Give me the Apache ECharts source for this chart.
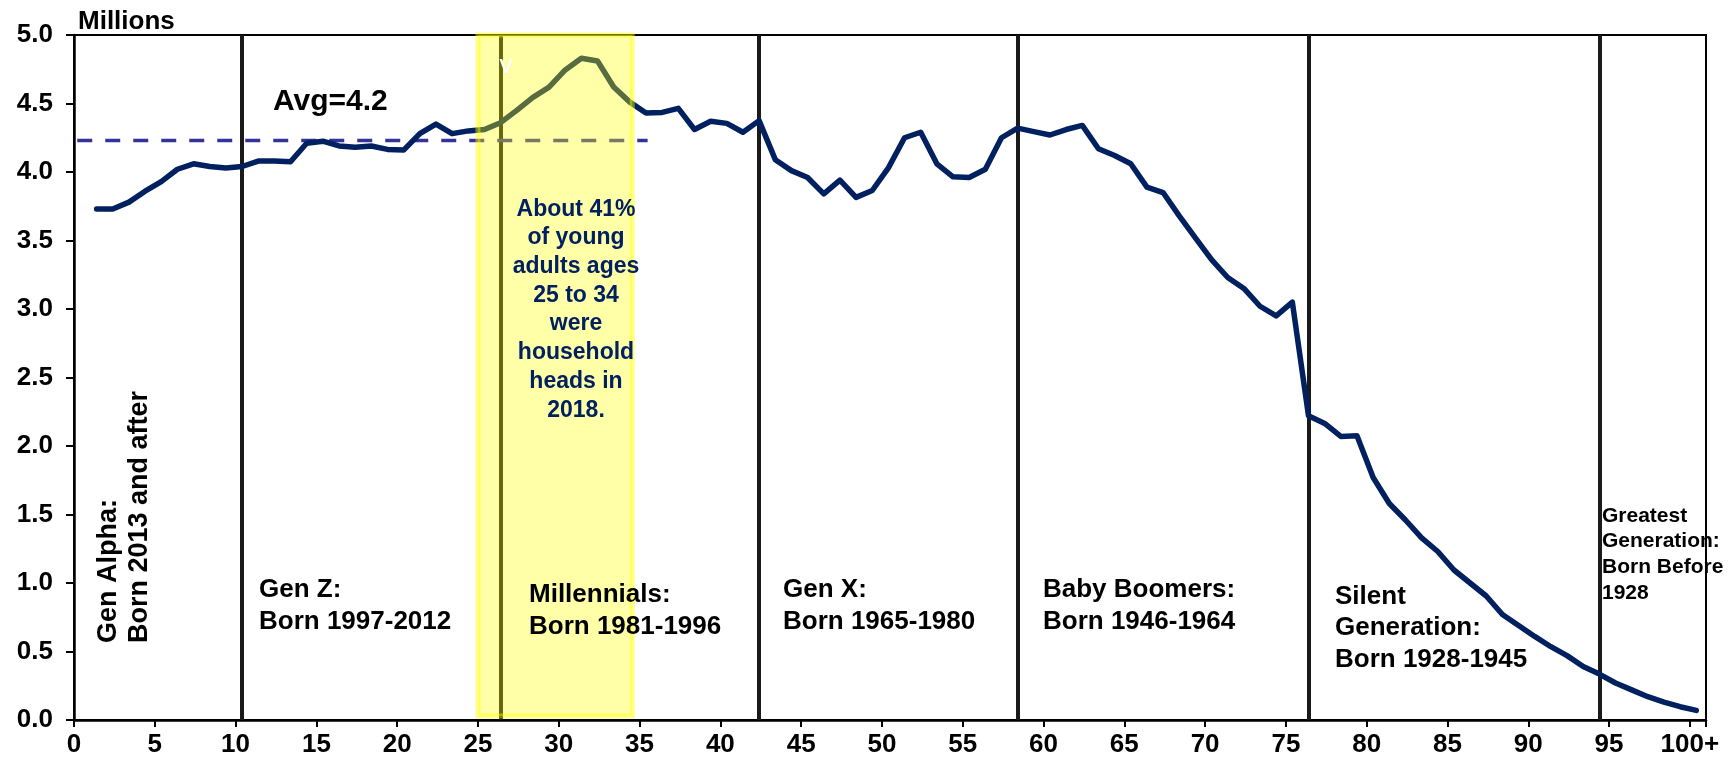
<!DOCTYPE html>
<html>
<head>
<meta charset="utf-8">
<script src="https://cdn.jsdelivr.net/npm/echarts@6/dist/echarts.min.js"></script>
<style>
  html, body { margin: 0; padding: 0; background: #fff; }
  #chart { width: 1731px; height: 765px; }
</style>
</head>
<body>
<div id="chart"></div>
<script>
// households headed by age (millions), ages 1..100+
const ages = Array.from({ length: 100 }, (_, i) => i + 1);
const households = [
  3.73, 3.73, 3.78, 3.86, 3.93, 4.02, 4.06, 4.04, 4.03, 4.04,
  4.08, 4.08, 4.075, 4.21, 4.225, 4.19, 4.18, 4.19, 4.165, 4.16,
  4.28, 4.35, 4.28, 4.30, 4.31, 4.36, 4.45, 4.545, 4.62, 4.745,
  4.83, 4.81, 4.62, 4.51, 4.43, 4.435, 4.465, 4.31, 4.37, 4.355,
  4.29, 4.375, 4.09, 4.01, 3.96, 3.84, 3.94, 3.815, 3.865, 4.03,
  4.25, 4.29, 4.06, 3.965, 3.96, 4.02, 4.25, 4.32, 4.295, 4.27,
  4.31, 4.34, 4.17, 4.12, 4.06, 3.89, 3.85, 3.68, 3.52, 3.36,
  3.23, 3.15, 3.02, 2.95, 3.05, 2.22, 2.165, 2.07, 2.075, 1.77,
  1.58, 1.46, 1.33, 1.23, 1.095, 1.0, 0.905, 0.77, 0.69, 0.61,
  0.535, 0.47, 0.39, 0.335, 0.27, 0.22, 0.17, 0.13, 0.097, 0.07
];
const genBoundaries = [10.4, 26.4, 42.4, 58.4, 76.4, 94.4];
const avgValue = 4.23;
const avgSpan = [0.2, 35.5];
const youngBand = [25, 34.55];

const POINT_OFFSET = 0.4; // points sit slightly right of the age tick in the source
const FONT = 'Arial, "Liberation Sans", Helvetica, sans-serif';

const chart = echarts.init(document.getElementById('chart'));

const label = (text, x, y, extra) => ({
  type: 'text', x: x, y: y, z: 100,
  style: Object.assign({
    text: text, fill: '#000', font: 'bold 26px ' + FONT,
    align: 'left', verticalAlign: 'top', lineHeight: 32
  }, extra || {})
});

chart.setOption({
  animation: false,
  grid: {
    left: 74, right: 25, top: 35, bottom: 45,
    show: true, borderColor: '#000', borderWidth: 2, backgroundColor: 'transparent'
  },
  xAxis: {
    type: 'value', min: 0, max: 101, interval: 5,
    axisLine: { lineStyle: { color: '#000', width: 2.5 } },
    axisTick: { inside: false, length: 7, lineStyle: { color: '#000', width: 2 } },
    axisLabel: {
      margin: 12, color: '#000', fontSize: 26, fontWeight: 'bold', fontFamily: FONT,
      formatter: v => v === 100 ? '100+' : (v % 5 === 0 ? String(v) : '')
    },
    splitLine: { show: false }
  },
  yAxis: {
    type: 'value', min: 0, max: 5, interval: 0.5,
    axisLine: { show: true, lineStyle: { color: '#000', width: 2.5 } },
    axisTick: { show: true, length: 8, lineStyle: { color: '#000', width: 2 } },
    axisLabel: {
      margin: 21, color: '#000', fontSize: 26, fontWeight: 'bold', fontFamily: FONT,
      formatter: v => v.toFixed(1)
    },
    splitLine: { show: false }
  },
  series: [
    {
      name: 'boundaries', type: 'line', data: [], z: 1,
      markLine: {
        silent: true, symbol: 'none', label: { show: false }, z: 1,
        lineStyle: { color: '#1a1a1a', width: 4, type: 'solid' },
        data: genBoundaries.map(x => ({ xAxis: x }))
      }
    },
    {
      name: 'avg', type: 'line', z: 2, showSymbol: false,
      data: avgSpan.map(x => [x, avgValue]),
      lineStyle: { color: '#333399', width: 3.5, type: [15, 13] }
    },
    {
      name: 'households', type: 'line', z: 3, showSymbol: false,
      data: ages.map((a, i) => [a + POINT_OFFSET, households[i]]),
      lineStyle: { color: '#002060', width: 5.5, join: 'round', cap: 'round' }
    },
    {
      name: 'band', type: 'line', data: [], z: 10,
      markArea: {
        silent: true, z: 20,
        itemStyle: { color: 'rgba(255,255,0,0.34)', borderColor: 'rgba(255,255,0,0.45)', borderWidth: 5 },
        data: [[{ xAxis: youngBand[0], yAxis: 0.03 }, { xAxis: youngBand[1], yAxis: 5 }]]
      }
    }
  ],
  graphic: [
    label('Millions', 78, 6),
    label('Avg=4.2', 273, 86, { font: 'bold 30px ' + FONT }),
    label('v', 506, 66, { fill: '#fff', font: '26px ' + FONT, align: 'center', verticalAlign: 'middle' }),
    label('About 41%\nof young\nadults ages\n25 to 34\nwere\nhousehold\nheads in\n2018.', 576, 195,
      { fill: '#002060', font: 'bold 23px ' + FONT, align: 'center', lineHeight: 28.7 }),
    Object.assign(label('Gen Alpha:\nBorn 2013 and after', 0, 0,
      { verticalAlign: 'middle', font: 'bold 27px ' + FONT, lineHeight: 31 }),
      { x: 124, y: 643, rotation: Math.PI / 2 }),
    label('Gen Z:\nBorn 1997-2012', 259, 574),
    label('Millennials:\nBorn 1981-1996', 529, 579),
    label('Gen X:\nBorn 1965-1980', 783, 574),
    label('Baby Boomers:\nBorn 1946-1964', 1043, 574),
    label('Silent\nGeneration:\nBorn 1928-1945', 1335, 581, { lineHeight: 31.5 }),
    label('Greatest\nGeneration:\nBorn Before\n1928', 1602, 503,
      { font: 'bold 21px ' + FONT, lineHeight: 25.8 })
  ]
});
</script>
</body>
</html>
